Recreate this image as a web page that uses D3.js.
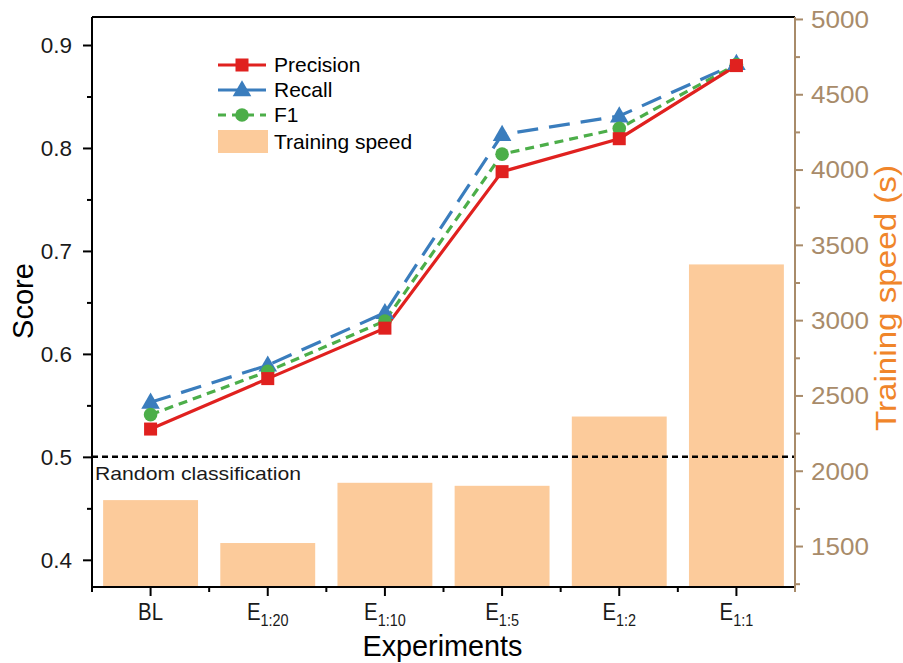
<!DOCTYPE html>
<html>
<head>
<meta charset="utf-8">
<script src="https://cdn.jsdelivr.net/npm/d3@7"></script>
<style>
  body { margin: 0; background: #fff; }
  svg { font-family: "Liberation Sans", Arial, sans-serif; }
</style>
</head>
<body>
<svg id="chart" width="903" height="663"></svg>
<script>
// Experiment groups (base letter + subscript)
const categories = ["BL", "E1:20", "E1:10", "E1:5", "E1:2", "E1:1"];
const catBase = ["BL", "E", "E", "E", "E", "E"];
const catSub = ["", "1:20", "1:10", "1:5", "1:2", "1:1"];

// Scores
const precision = [0.527, 0.576, 0.625, 0.777, 0.809, 0.880];
const recall    = [0.553, 0.589, 0.640, 0.813, 0.831, 0.882];
const f1        = [0.541, 0.583, 0.632, 0.794, 0.819, 0.881];

// Training time in seconds
const trainingSpeed = [1805, 1520, 1920, 1900, 2360, 3370];

// Axis ticks
const scoreTicks = [0.4, 0.5, 0.6, 0.7, 0.8, 0.9];
const scoreMinor = [0.45, 0.55, 0.65, 0.75, 0.85];
const speedTicks = [1500, 2000, 2500, 3000, 3500, 4000, 4500, 5000];
const speedMinor = [1250, 1750, 2250, 2750, 3250, 3750, 4250, 4750];
const randomLevel = 0.5;

const svg = d3.select("#chart");
const m = { left: 92, right: 795, top: 17, bottom: 587 };

const x = d3.scaleBand().domain(categories).range([m.left, m.right]).paddingInner(0.19).paddingOuter(0.095);
const xc = d => x(d) + x.bandwidth() / 2;
const y = d3.scaleLinear().domain([0.3736, 0.9272]).range([m.bottom, m.top]);
const y2 = d3.scaleLinear().domain([1228, 5013]).range([m.bottom, m.top]);

const axisCol = "#000";
const rightCol = "#a88b6a";
const orange = "#f0852a";
const barCol = "#fccb9b";

// Bars
svg.append("g").selectAll("rect").data(categories).join("rect")
  .attr("x", d => x(d))
  .attr("width", x.bandwidth())
  .attr("y", (d, i) => y2(trainingSpeed[i]))
  .attr("height", (d, i) => m.bottom - y2(trainingSpeed[i]))
  .attr("fill", barCol);

// Random-classification reference line
svg.append("line")
  .attr("x1", m.left).attr("x2", m.right)
  .attr("y1", y(randomLevel)).attr("y2", y(randomLevel))
  .attr("stroke", "#000").attr("stroke-width", 2.5).attr("stroke-dasharray", "6,4");
svg.append("text").attr("x", m.left + 3).attr("y", y(randomLevel) + 23)
  .attr("font-size", 19).attr("fill", "#1a1a1a")
  .attr("textLength", 206).attr("lengthAdjust", "spacingAndGlyphs")
  .text("Random classification");

// Series lines
const series = [
  { name: "Recall", values: recall, color: "#3a7dbd", dash: "21,11", marker: "tri" },
  { name: "F1", values: f1, color: "#4cae49", dash: "9,6", marker: "circ" },
  { name: "Precision", values: precision, color: "#e0211f", dash: null, marker: "sq" }
];
const line = d3.line().x((d, i) => xc(categories[i])).y(d => y(d));

function drawMarker(g, type, cx, cy, color) {
  if (type === "sq") {
    g.append("rect").attr("x", cx - 6.5).attr("y", cy - 6.5).attr("width", 13).attr("height", 13).attr("fill", color);
  } else if (type === "circ") {
    g.append("circle").attr("cx", cx).attr("cy", cy).attr("r", 6.8).attr("fill", color);
  } else {
    g.append("path").attr("transform", `translate(${cx},${cy + 1})`)
      .attr("d", d3.symbol(d3.symbolTriangle, 150)()).attr("fill", color);
  }
}

series.forEach(s => {
  svg.append("path").datum(s.values)
    .attr("d", line).attr("fill", "none")
    .attr("stroke", s.color).attr("stroke-width", 3.2)
    .attr("stroke-dasharray", s.dash);
});
series.forEach(s => {
  const g = svg.append("g");
  s.values.forEach((v, i) => drawMarker(g, s.marker, xc(categories[i]), y(v), s.color));
});

// Frame: top and bottom edges
svg.append("line").attr("x1", m.left).attr("x2", m.right).attr("y1", m.top).attr("y2", m.top)
  .attr("stroke", axisCol).attr("stroke-width", 2);
svg.append("line").attr("x1", m.left).attr("x2", m.right).attr("y1", m.bottom).attr("y2", m.bottom)
  .attr("stroke", axisCol).attr("stroke-width", 2);

// Left axis
const gl = svg.append("g").attr("transform", `translate(${m.left},0)`)
  .call(d3.axisLeft(y).tickValues(scoreTicks).tickFormat(d3.format(".1f")).tickSize(9).tickSizeOuter(0));
gl.append("g").call(d3.axisLeft(y).tickValues(scoreMinor).tickFormat("").tickSize(5).tickSizeOuter(0))
  .select(".domain").remove();
gl.selectAll(".domain").attr("stroke", axisCol).attr("stroke-width", 2).attr("d", `M0,${m.top}V${m.bottom}`);
gl.selectAll(".tick line").attr("stroke", axisCol).attr("stroke-width", 2);
gl.selectAll(".tick text").attr("font-size", 22.5).attr("fill", "#1a1a1a").attr("x", -20).attr("dy", "0.35em");

// Right axis
const gr = svg.append("g").attr("transform", `translate(${m.right},0)`)
  .call(d3.axisRight(y2).tickValues(speedTicks).tickFormat(d3.format("d")).tickSize(8).tickSizeOuter(0));
gr.append("g").call(d3.axisRight(y2).tickValues(speedMinor).tickFormat("").tickSize(5).tickSizeOuter(0))
  .select(".domain").remove();
gr.selectAll(".domain").attr("stroke", rightCol).attr("stroke-width", 2).attr("d", `M0,${m.top}V${m.bottom}`);
gr.selectAll(".tick line").attr("stroke", rightCol).attr("stroke-width", 2);
gr.selectAll(".tick text").attr("font-size", 24).attr("fill", rightCol).attr("x", 16).attr("dy", "0.35em")
  .attr("textLength", 58).attr("lengthAdjust", "spacingAndGlyphs");

// Bottom axis: major ticks at centres, minor ticks at band boundaries
const bounds = d3.range(categories.length + 1).map(i => m.left + i * (m.right - m.left) / categories.length);
const gb = svg.append("g");
gb.selectAll("line.major").data(categories).join("line").attr("class", "major")
  .attr("x1", d => xc(d)).attr("x2", d => xc(d)).attr("y1", m.bottom).attr("y2", m.bottom + 9)
  .attr("stroke", axisCol).attr("stroke-width", 2);
gb.selectAll("line.minor").data(bounds).join("line").attr("class", "minor")
  .attr("x1", d => d).attr("x2", d => d).attr("y1", m.bottom).attr("y2", m.bottom + 5)
  .attr("stroke", (d, i) => i === bounds.length - 1 ? rightCol : axisCol).attr("stroke-width", 2);

// Category labels, slightly condensed
const labels = gb.selectAll("text").data(categories).join("text")
  .attr("transform", d => `translate(${xc(d)},620) scale(0.85,1)`)
  .attr("text-anchor", "middle")
  .attr("font-size", 24).attr("fill", "#1a1a1a");
labels.each(function (d, i) {
  const t = d3.select(this);
  t.append("tspan").text(catBase[i]);
  if (catSub[i]) t.append("tspan").attr("dy", 6).attr("font-size", 17).text(catSub[i]);
});

// Axis titles
svg.append("text").attr("transform", `translate(${(m.left + m.right) / 2 - 1},656) scale(0.96,1)`)
  .attr("text-anchor", "middle")
  .attr("font-size", 30).attr("fill", "#000").text("Experiments");
svg.append("text").attr("transform", "translate(33,301) rotate(-90)").attr("text-anchor", "middle")
  .attr("font-size", 29).attr("fill", "#000").text("Score");
svg.append("text").attr("transform", "translate(896,298) rotate(-90)").attr("text-anchor", "middle")
  .attr("font-size", 29).attr("fill", orange)
  .attr("textLength", 266).attr("lengthAdjust", "spacingAndGlyphs")
  .text("Training speed (s)");

// Legend
const lg = svg.append("g");
const legendRows = [
  { label: "Precision", color: "#e0211f", dash: null, marker: "sq", yy: 65 },
  { label: "Recall", color: "#3a7dbd", dash: null, marker: "tri", yy: 90 },
  { label: "F1", color: "#4cae49", dash: "8,6", marker: "circ", yy: 115 }
];
legendRows.forEach(r => {
  lg.append("line").attr("x1", 218).attr("x2", 266).attr("y1", r.yy).attr("y2", r.yy)
    .attr("stroke", r.color).attr("stroke-width", 3).attr("stroke-dasharray", r.dash);
  drawMarker(lg, r.marker, 242, r.yy, r.color);
  lg.append("text").attr("x", 274).attr("y", r.yy + 7).attr("font-size", 21).attr("fill", "#000").text(r.label);
});
lg.append("rect").attr("x", 218).attr("y", 130).attr("width", 50).attr("height", 23).attr("fill", barCol);
lg.append("text").attr("x", 274).attr("y", 149).attr("font-size", 21).attr("fill", "#000").text("Training speed");
</script>
</body>
</html>
